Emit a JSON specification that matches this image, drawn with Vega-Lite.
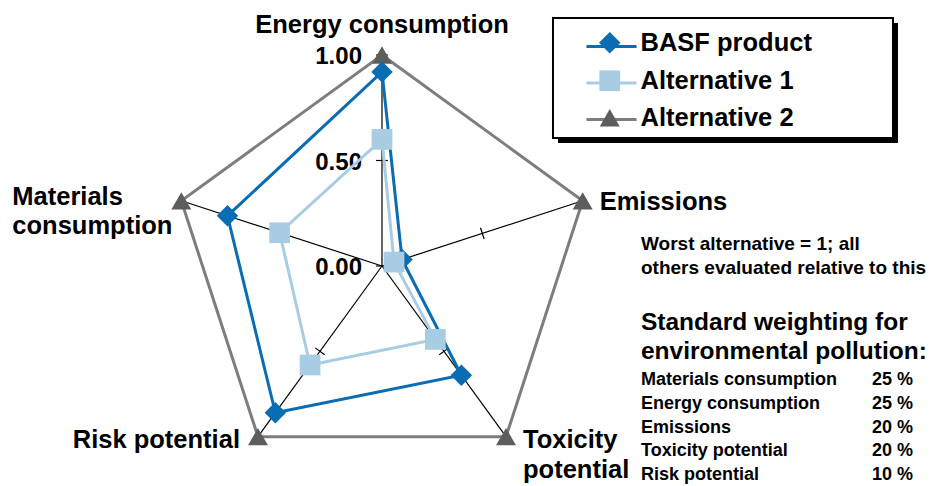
{
  "$schema": "https://vega.github.io/schema/vega-lite/v6.json",
  "width": 930,
  "height": 486,
  "autosize": "none",
  "padding": 0,
  "background": "white",
  "config": {
    "view": {"stroke": null},
    "font": "Liberation Sans",
    "text": {"font": "Liberation Sans", "fontWeight": "bold", "color": "black"},
    "axis": {"disable": true}
  },
  "resolve": {"legend": {"color": "independent"}},
  "datasets": {
    "scores": [
      {"series": "Alternative 2", "axis": "Energy consumption", "value": 1.0},
      {"series": "Alternative 2", "axis": "Emissions", "value": 1.0},
      {"series": "Alternative 2", "axis": "Toxicity potential", "value": 1.0},
      {"series": "Alternative 2", "axis": "Risk potential", "value": 1.0},
      {"series": "Alternative 2", "axis": "Materials consumption", "value": 1.0},
      {"series": "BASF product", "axis": "Energy consumption", "value": 0.92},
      {"series": "BASF product", "axis": "Emissions", "value": 0.10},
      {"series": "BASF product", "axis": "Toxicity potential", "value": 0.64},
      {"series": "BASF product", "axis": "Risk potential", "value": 0.86},
      {"series": "BASF product", "axis": "Materials consumption", "value": 0.77},
      {"series": "Alternative 1", "axis": "Energy consumption", "value": 0.60},
      {"series": "Alternative 1", "axis": "Emissions", "value": 0.06},
      {"series": "Alternative 1", "axis": "Toxicity potential", "value": 0.43},
      {"series": "Alternative 1", "axis": "Risk potential", "value": 0.58},
      {"series": "Alternative 1", "axis": "Materials consumption", "value": 0.51}
    ],
    "axes": [
      {"axis": "Energy consumption"},
      {"axis": "Emissions"},
      {"axis": "Toxicity potential"},
      {"axis": "Risk potential"},
      {"axis": "Materials consumption"}
    ],
    "ticks": [
      {"axis": "Energy consumption", "value": 0.0},
      {"axis": "Energy consumption", "value": 0.5},
      {"axis": "Energy consumption", "value": 1.0},
      {"axis": "Emissions", "value": 0.5},
      {"axis": "Toxicity potential", "value": 0.5},
      {"axis": "Risk potential", "value": 0.5},
      {"axis": "Materials consumption", "value": 0.5}
    ],
    "weights": [
      {"criterion": "Materials consumption", "weight": "25 %"},
      {"criterion": "Energy consumption", "weight": "25 %"},
      {"criterion": "Emissions", "weight": "20 %"},
      {"criterion": "Toxicity potential", "weight": "20 %"},
      {"criterion": "Risk potential", "weight": "10 %"}
    ]
  },
  "layer": [
    {
      "data": {"values": [{}]},
      "mark": {"type": "rect", "color": "black"},
      "encoding": {
        "x": {"datum": 0.8341, "type": "quantitative", "scale": {"domain": [-1.8104, 2.5972], "nice": false, "zero": false}},
        "x2": {"datum": 2.4455},
        "y": {"datum": 1.1517, "type": "quantitative", "scale": {"domain": [-1.0427, 1.2607], "nice": false, "zero": false}},
        "y2": {"datum": 0.5829}
      }
    },
    {
      "data": {"values": [{}]},
      "mark": {"type": "rect", "fill": "white", "stroke": "black", "strokeWidth": 2},
      "encoding": {
        "x": {"datum": 0.8104, "type": "quantitative"},
        "x2": {"datum": 2.4218},
        "y": {"datum": 1.1754, "type": "quantitative"},
        "y2": {"datum": 0.6066}
      }
    },
    {
      "data": {"name": "axes"},
      "transform": [
        {"calculate": "indexof(['Energy consumption','Emissions','Toxicity potential','Risk potential','Materials consumption'], datum.axis)", "as": "idx"},
        {"calculate": "PI/2 - datum.idx*2*PI/5", "as": "angle"},
        {"calculate": "cos(datum.angle)", "as": "px"},
        {"calculate": "sin(datum.angle)", "as": "py"},
        {"calculate": "0", "as": "ox"}
      ],
      "mark": {"type": "rule", "color": "black", "strokeWidth": 1.2},
      "encoding": {
        "x": {"field": "ox", "type": "quantitative"},
        "y": {"field": "ox", "type": "quantitative"},
        "x2": {"field": "px"},
        "y2": {"field": "py"}
      }
    },
    {
      "data": {"name": "ticks"},
      "transform": [
        {"calculate": "indexof(['Energy consumption','Emissions','Toxicity potential','Risk potential','Materials consumption'], datum.axis)", "as": "idx"},
        {"calculate": "PI/2 - datum.idx*2*PI/5", "as": "angle"},
        {"calculate": "datum.value*cos(datum.angle) + 0.028*sin(datum.angle)", "as": "ax"},
        {"calculate": "datum.value*sin(datum.angle) - 0.028*cos(datum.angle)", "as": "ay"},
        {"calculate": "datum.value*cos(datum.angle) - 0.028*sin(datum.angle)", "as": "bx"},
        {"calculate": "datum.value*sin(datum.angle) + 0.028*cos(datum.angle)", "as": "by"}
      ],
      "mark": {"type": "rule", "color": "black", "strokeWidth": 1.2},
      "encoding": {
        "x": {"field": "ax", "type": "quantitative"},
        "y": {"field": "ay", "type": "quantitative"},
        "x2": {"field": "bx"},
        "y2": {"field": "by"}
      }
    },
    {
      "data": {"name": "ticks"},
      "transform": [
        {"filter": "datum.axis === 'Energy consumption'"},
        {"calculate": "0", "as": "ox"}
      ],
      "mark": {"type": "text", "align": "right", "baseline": "middle", "dx": -20, "dy": 2, "fontSize": 24},
      "encoding": {
        "x": {"field": "ox", "type": "quantitative"},
        "y": {"field": "value", "type": "quantitative"},
        "text": {"field": "value", "type": "quantitative", "format": ".2f"}
      }
    },
    {
      "data": {"name": "scores"},
      "transform": [
        {"calculate": "indexof(['Energy consumption','Emissions','Toxicity potential','Risk potential','Materials consumption'], datum.axis)", "as": "idx"},
        {"calculate": "PI/2 - datum.idx*2*PI/5", "as": "angle"},
        {"calculate": "datum.value*cos(datum.angle)", "as": "px"},
        {"calculate": "datum.value*sin(datum.angle)", "as": "py"}
      ],
      "mark": {"type": "line", "interpolate": "linear-closed", "strokeWidth": 3},
      "encoding": {
        "x": {"field": "px", "type": "quantitative"},
        "y": {"field": "py", "type": "quantitative"},
        "order": {"field": "idx", "type": "quantitative"},
        "color": {
          "field": "series", "type": "nominal",
          "scale": {"domain": ["BASF product", "Alternative 1", "Alternative 2"], "range": ["#0a6cb2", "#a8cde3", "#7d7d7d"]},
          "legend": {
            "title": null,
            "orient": "none",
            "legendX": 595,
            "legendY": 30,
            "padding": 0,
            "symbolType": "M-1.67,0L1.67,0",
            "symbolSize": 900,
            "symbolStrokeWidth": 3,
            "labelExpr": "''",
            "labelFontSize": 1,
            "labelOffset": 0,
            "rowPadding": 13.5,
            "zindex": 0
          }
        }
      }
    },
    {
      "data": {"name": "scores"},
      "transform": [
        {"calculate": "indexof(['Energy consumption','Emissions','Toxicity potential','Risk potential','Materials consumption'], datum.axis)", "as": "idx"},
        {"calculate": "PI/2 - datum.idx*2*PI/5", "as": "angle"},
        {"calculate": "datum.value*cos(datum.angle)", "as": "px"},
        {"calculate": "datum.value*sin(datum.angle)", "as": "py"}
      ],
      "mark": {"type": "point", "filled": true, "opacity": 1, "strokeWidth": 0},
      "encoding": {
        "x": {"field": "px", "type": "quantitative"},
        "y": {"field": "py", "type": "quantitative"},
        "fill": {
          "field": "series", "type": "nominal",
          "scale": {"domain": ["BASF product", "Alternative 1", "Alternative 2"], "range": ["#0a6cb2", "#a8cde3", "#5c5e5c"]}
        },
        "shape": {
          "field": "series", "type": "nominal",
          "scale": {"domain": ["BASF product", "Alternative 1", "Alternative 2"], "range": ["diamond", "square", "triangle-up"]},
          "legend": {
            "title": null,
            "orient": "none",
            "legendX": 597,
            "legendY": 30,
            "padding": 0,
            "labelFont": "Liberation Sans",
            "labelFontSize": 25.5,
            "labelFontWeight": "bold",
            "labelColor": "black",
            "labelOffset": 18,
            "rowPadding": 10,
            "labelLimit": 400,
            "symbolOpacity": 1,
            "zindex": 1
          }
        },
        "size": {
          "field": "series", "type": "nominal",
          "scale": {"domain": ["BASF product", "Alternative 1", "Alternative 2"], "range": [460, 400, 680]}
        }
      }
    },
    {
      "data": {"name": "axes"},
      "transform": [
        {"filter": "datum.axis === 'Energy consumption'"},
        {"calculate": "0", "as": "px"},
        {"calculate": "1", "as": "py"}
      ],
      "mark": {"type": "text", "align": "center", "baseline": "middle", "dy": -30, "fontSize": 25.5},
      "encoding": {"x": {"field": "px", "type": "quantitative"}, "y": {"field": "py", "type": "quantitative"}, "text": {"field": "axis", "type": "nominal"}}
    },
    {
      "data": {"name": "axes"},
      "transform": [
        {"filter": "datum.axis === 'Emissions'"},
        {"calculate": "cos(PI/2 - 2*PI/5)", "as": "px"},
        {"calculate": "sin(PI/2 - 2*PI/5)", "as": "py"}
      ],
      "mark": {"type": "text", "align": "left", "baseline": "middle", "dx": 17, "dy": 1, "fontSize": 25.5},
      "encoding": {"x": {"field": "px", "type": "quantitative"}, "y": {"field": "py", "type": "quantitative"}, "text": {"field": "axis", "type": "nominal"}}
    },
    {
      "data": {"name": "axes"},
      "transform": [
        {"filter": "datum.axis === 'Toxicity potential'"},
        {"calculate": "cos(PI/2 - 4*PI/5)", "as": "px"},
        {"calculate": "sin(PI/2 - 4*PI/5)", "as": "py"}
      ],
      "mark": {"type": "text", "align": "left", "baseline": "middle", "dx": 17, "dy": 3, "fontSize": 25.5, "lineBreak": " ", "lineHeight": 30},
      "encoding": {"x": {"field": "px", "type": "quantitative"}, "y": {"field": "py", "type": "quantitative"}, "text": {"field": "axis", "type": "nominal"}}
    },
    {
      "data": {"name": "axes"},
      "transform": [
        {"filter": "datum.axis === 'Risk potential'"},
        {"calculate": "cos(PI/2 - 6*PI/5)", "as": "px"},
        {"calculate": "sin(PI/2 - 6*PI/5)", "as": "py"}
      ],
      "mark": {"type": "text", "align": "right", "baseline": "middle", "dx": -18, "dy": 3, "fontSize": 25.5},
      "encoding": {"x": {"field": "px", "type": "quantitative"}, "y": {"field": "py", "type": "quantitative"}, "text": {"field": "axis", "type": "nominal"}}
    },
    {
      "data": {"name": "axes"},
      "transform": [
        {"filter": "datum.axis === 'Materials consumption'"},
        {"calculate": "cos(PI/2 - 8*PI/5)", "as": "px"},
        {"calculate": "sin(PI/2 - 8*PI/5)", "as": "py"}
      ],
      "mark": {"type": "text", "align": "left", "baseline": "middle", "dx": -169, "dy": -4, "fontSize": 25.5, "lineBreak": " ", "lineHeight": 29},
      "encoding": {"x": {"field": "px", "type": "quantitative"}, "y": {"field": "py", "type": "quantitative"}, "text": {"field": "axis", "type": "nominal"}}
    },
    {
      "data": {"values": [{}]},
      "mark": {"type": "text", "align": "left", "baseline": "middle", "fontSize": 19, "lineHeight": 24},
      "encoding": {
        "x": {"datum": 1.2275, "type": "quantitative"},
        "y": {"datum": 0.1043, "type": "quantitative"},
        "text": {"value": ["Worst alternative = 1; all", "others evaluated relative to this"]}
      }
    },
    {
      "data": {"values": [{}]},
      "mark": {"type": "text", "align": "left", "baseline": "middle", "fontSize": 24.5, "lineHeight": 29},
      "encoding": {
        "x": {"datum": 1.2275, "type": "quantitative"},
        "y": {"datum": -0.2701, "type": "quantitative"},
        "text": {"value": ["Standard weighting for", "environmental pollution:"]}
      }
    },
    {
      "data": {"name": "weights"},
      "transform": [
        {"window": [{"op": "row_number", "as": "row"}]},
        {"calculate": "-0.5403 - (datum.row - 1)*0.1126", "as": "ty"},
        {"calculate": "1.2275", "as": "tx"}
      ],
      "mark": {"type": "text", "align": "left", "baseline": "middle", "fontSize": 18},
      "encoding": {"x": {"field": "tx", "type": "quantitative"}, "y": {"field": "ty", "type": "quantitative"}, "text": {"field": "criterion", "type": "nominal"}}
    },
    {
      "data": {"name": "weights"},
      "transform": [
        {"window": [{"op": "row_number", "as": "row"}]},
        {"calculate": "-0.5403 - (datum.row - 1)*0.1126", "as": "ty"},
        {"calculate": "2.5166", "as": "tx"}
      ],
      "mark": {"type": "text", "align": "right", "baseline": "middle", "fontSize": 18},
      "encoding": {"x": {"field": "tx", "type": "quantitative"}, "y": {"field": "ty", "type": "quantitative"}, "text": {"field": "weight", "type": "nominal"}}
    }
  ]
}
